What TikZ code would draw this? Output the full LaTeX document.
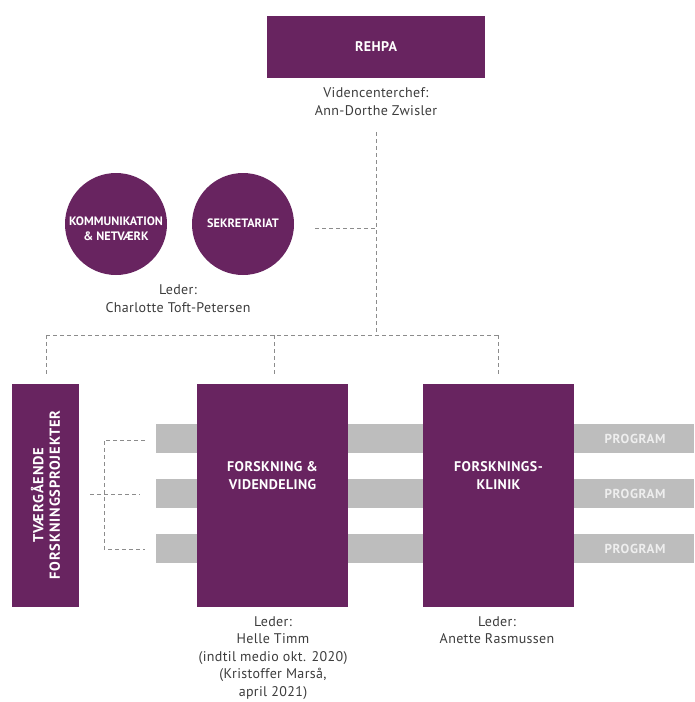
\documentclass[tikz,border=0pt]{standalone}
\usepackage{fontspec}
\setmainfont[LetterSpace=2.5]{PT Sans}
\newfontfamily\labfont[LetterSpace=3]{PT Sans}
\newfontfamily\circfont{PT Sans}
\newfontfamily\progfont[LetterSpace=5]{PT Sans}
\newfontfamily\vertfont[LetterSpace=6]{PT Sans}
\definecolor{rehpa}{RGB}{104,36,96}
\definecolor{barc}{RGB}{189,189,189}
\definecolor{progc}{RGB}{238,238,238}
\definecolor{dashc}{RGB}{140,140,140}
\definecolor{txtc}{RGB}{60,60,60}
\begin{document}
\begin{tikzpicture}[x=1pt,y=-1pt,
  purplebox/.style={fill=rehpa,draw=none,inner sep=0pt,minimum width=#1},
  boxtext/.style={text=white,font=\labfont\bfseries\fontsize{14}{18}\selectfont,align=center,inner sep=0pt},
  verttext/.style={text=white,font=\vertfont\bfseries\fontsize{14.5}{16.5}\selectfont,align=center,inner sep=0pt},
  circtext/.style={text=white,font=\circfont\bfseries\fontsize{12.2}{15}\selectfont,align=center,inner sep=0pt},
  unit/.style={circle,fill=rehpa,draw=none,minimum size=102pt,inner sep=0pt},
  note/.style={text=txtc,font=\fontsize{14}{18}\selectfont,align=center,inner sep=0pt},
  bar/.style={fill=barc,draw=none,inner sep=0pt,minimum height=29pt},
  progtext/.style={text=progc,font=\progfont\bfseries\fontsize{13}{15}\selectfont,inner sep=0pt},
  dline/.style={draw=dashc,line width=1pt,dash pattern=on 4pt off 3pt}]
\useasboundingbox (0,0) rectangle (694,702);

% top unit
\node[purplebox=218pt,minimum height=62pt] (rehpa) at (376,47) {};
\node[boxtext] (rehpalbl) at (376,47) {REHPA};
\node[note,anchor=north] (rehpalead) at (376,87.5) {Videncenterchef:\\Ann-Dorthe Zwisler};

% circles
\node[unit] (komm) at (116,224) {};
\node[circtext] (kommlbl) at (116,229) {KOMMUNIKATION\\\& NETVÆRK};
\node[unit] (sekr) at (243,224) {};
\node[circtext] (sekrlbl) at (243,223) {SEKRETARIAT};
\node[note,anchor=north] (sekrlead) at (178,284) {Leder:\\Charlotte Toft-Petersen};

% program bars (behind boxes)
\node[bar,minimum width=538pt] (bar1) at (425,438.5) {};
\node[bar,minimum width=538pt] (bar2) at (425,493.5) {};
\node[bar,minimum width=538pt] (bar3) at (425,548.5) {};
\node[progtext] (prog1) at (635,439) {PROGRAM};
\node[progtext] (prog2) at (635,494) {PROGRAM};
\node[progtext] (prog3) at (635,549) {PROGRAM};

% lower boxes
\node[purplebox=67pt,minimum height=223pt] (tvaer) at (45.5,495.5) {};
\node[verttext,rotate=90] (tvaerlbl) at (45.5,495) {TVÆRGÅENDE\\FORSKNINGSPROJEKTER};
\node[purplebox=151pt,minimum height=223pt] (forsk) at (272.5,495.5) {};
\node[boxtext] (forsklbl) at (272.5,476) {FORSKNING \&\\VIDENDELING};
\node[purplebox=151pt,minimum height=223pt] (klinik) at (498.5,495.5) {};
\node[boxtext] (kliniklbl) at (498.5,476) {FORSKNINGS-\\KLINIK};

\node[note,anchor=north,font=\fontsize{14}{17.6}\selectfont] (forsklead) at (273,616) {Leder:\\Helle Timm\\(indtil medio okt. 2020)\\(Kristoffer Marså,\\april 2021)};
\node[note,anchor=north,font=\fontsize{14}{17.6}\selectfont] (kliniklead) at (497,616) {Leder:\\Anette Rasmussen};

% connector coordinates
\coordinate (vtop) at (376,132);
\coordinate (vmid) at (376,228);
\coordinate (vbot) at (376,335);
\coordinate (sekrend) at (315,228);
\coordinate (hl) at (46,335);
\coordinate (hm) at (274,335);
\coordinate (hr) at (498,335);
\coordinate (tl) at (46,375);
\coordinate (tm) at (274,375);
\coordinate (tr) at (498,375);
\coordinate (bt) at (104,440);
\coordinate (bb) at (104,549);
\coordinate (btend) at (145,440);
\coordinate (bbend) at (145,549);
\coordinate (bmstart) at (90,494);
\coordinate (bmend) at (140,494);

\draw[dline] (vtop) -- (vbot);
\draw[dline] (sekrend) -- (vmid);
\draw[dline] (hl) -- (hr);
\draw[dline] (hl) -- (tl);
\draw[dline] (hm) -- (tm);
\draw[dline] (hr) -- (tr);
\draw[dline] (btend) -- (bt) -- (bb) -- (bbend);
\draw[dline] (bmstart) -- (bmend);
\end{tikzpicture}
\end{document}
